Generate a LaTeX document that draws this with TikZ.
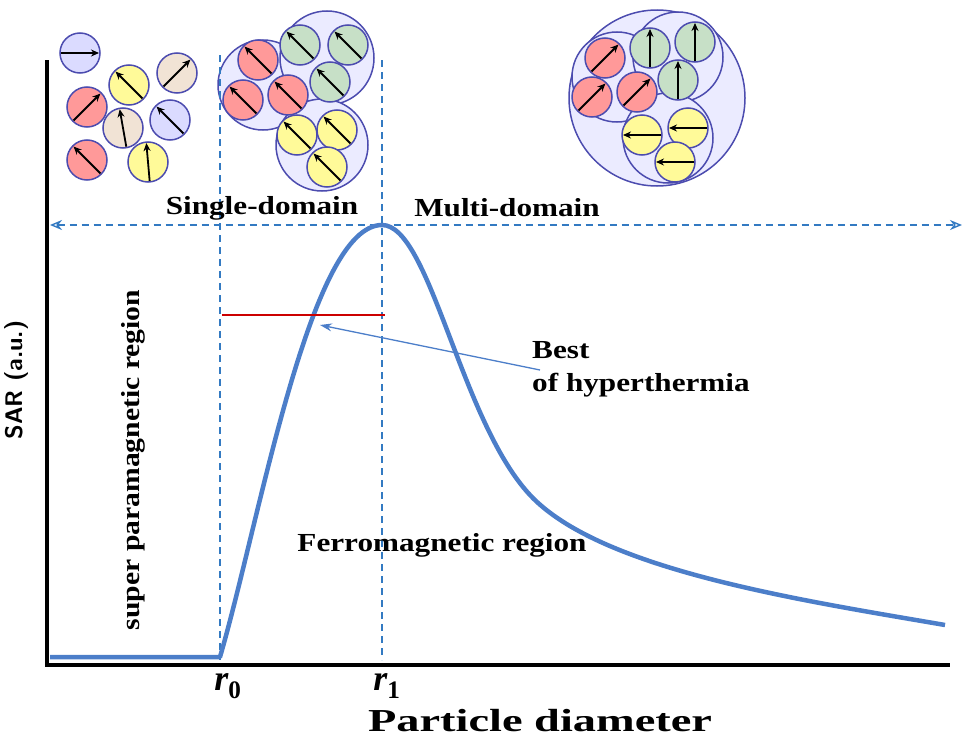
\documentclass[tikz,border=0pt]{standalone}
\usepackage{fontspec}
\setmainfont{Liberation Serif}
\usetikzlibrary{calc,arrows.meta}
\begin{document}
\begin{tikzpicture}[x=1pt,y=-1pt,
 part/.style={draw=blue!55!black!70,line width=1.5pt},
 big/.style={draw=blue!55!black!70,line width=1.5pt,fill=blue!8},
 mom/.style={-{Stealth[length=8pt,width=7pt]},line width=1.8pt},
 dsh/.style={dash pattern=on 7pt off 5pt,draw=blue!50!cyan!70!black!80,line width=1.4pt},
 lbl/.style={font=\bfseries\fontsize{26}{28}\selectfont,xscale=1.2}]
\useasboundingbox (0,0) rectangle (975,736);
\colorlet{cR}{red!40!white}\colorlet{cY}{yellow!40!white}\colorlet{cG}{green!45!black!22!white}
\colorlet{cB}{blue!14!white}\colorlet{cT}{brown!22!white}
\def\pc#1#2#3#4{\fill[#3] (#1,#2) circle (20);\draw[part] (#1,#2) circle (20);
 \draw[mom] ($(#1,#2)-(-#4:19)$) -- ($(#1,#2)+(-#4:19)$);}
% left group
\pc{80}{53}{cB}{0}
\pc{129}{85}{cY}{135}
\pc{177}{73}{cT}{45}
\pc{87}{107}{cR}{45}
\pc{123}{128}{cT}{100}
\pc{170}{120}{cB}{135}
\pc{87}{160}{cR}{135}
\pc{148}{162}{cY}{95}
% middle
\draw[big] (263,85) circle (45);
\draw[big] (327,58) circle (47);
\draw[big] (322,145) circle (46);
\pc{258}{60}{cR}{135}\pc{243}{100}{cR}{135}\pc{288}{95}{cR}{135}
\pc{300}{45}{cG}{135}\pc{348}{45}{cG}{135}\pc{330}{82}{cG}{135}
\pc{297}{135}{cY}{135}\pc{337}{130}{cY}{135}\pc{327}{167}{cY}{135}
% right
\draw[big] (657,98) circle (88);
\draw[big] (617,77) circle (45);
\draw[big] (678,57) circle (45);
\draw[big] (668,138) circle (45);
\pc{605}{58}{cR}{45}\pc{592}{97}{cR}{45}\pc{637}{92}{cR}{45}
\pc{650}{48}{cG}{90}\pc{695}{42}{cG}{90}\pc{678}{80}{cG}{90}
\pc{642}{135}{cY}{180}\pc{688}{128}{cY}{180}\pc{675}{162}{cY}{180}
% axes
\coordinate (O) at (47,665);
\draw[line width=4pt] (47,60) -- (O) -- (950,665);
% dashed
\coordinate (d0t) at (220,55);\coordinate (d0b) at (220,660);
\coordinate (d1t) at (382,60);\coordinate (d1b) at (382,660);
\draw[dsh] (d0t) -- (d0b);
\draw[dsh] (d1t) -- (d1b);
\coordinate (hl) at (50,225);\coordinate (hr) at (962,225);
\draw[dsh,{Stealth[length=12pt,width=10pt,open]}-{Stealth[length=12pt,width=10pt,open]}] (hl) -- (hr);
% curve
\draw[line width=4.5pt,blue!60!cyan!70!black!70,line join=round] (50,657) -- (220,657)
 .. controls (260,520) and (310,225) .. (382,225)
 .. controls (430,225) and (460,420) .. (530,495)
 .. controls (600,570) and (800,600) .. (945,625);
\draw[red!80!black,line width=2.5pt] (222,315) -- (385,315);
\coordinate (as) at (540,370);\coordinate (ae) at (320,325);
\draw[-{Stealth[length=12pt,width=8pt]},blue!60!cyan!70!black!70,line width=1.3pt] (as) -- (ae);
% labels
\node[lbl] (sd) at (262,208) {Single-domain};
\node[lbl] (md) at (507,208) {Multi-domain};
\node[lbl,anchor=west] (b1) at (528,350) {Best};
\node[lbl,anchor=west] (b2) at (528,385) {of hyperthermia};
\node[lbl] (fr) at (442,545) {Ferromagnetic region};
\node[font=\bfseries\fontsize{26}{28}\selectfont,rotate=90,xscale=1.14] (sp) at (133,460) {super paramagnetic region};
\node[rotate=90,font=\sffamily\bfseries\fontsize{24}{26}\selectfont] (sar) at (16,380) {SAR (a.u.)};
\node[inner sep=0pt,font=\bfseries\itshape\fontsize{36}{38}\selectfont] (r0) at (228,686) {r\textsubscript{\upshape 0}};
\node[inner sep=0pt,font=\bfseries\itshape\fontsize{36}{38}\selectfont] (r1) at (387,686) {r\textsubscript{\upshape 1}};
\node[inner sep=0pt,font=\bfseries\fontsize{32}{34}\selectfont,xscale=1.45] (pd) at (540,721) {Particle diameter};
\end{tikzpicture}
\end{document}
